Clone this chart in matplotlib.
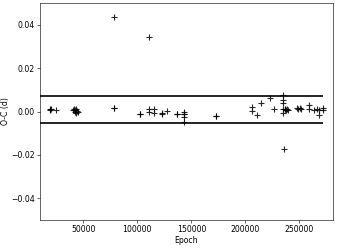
import matplotlib
matplotlib.use("Agg")
import matplotlib.pyplot as plt

# O-C residuals (days) against cycle number
epoch = [
    19400, 19400, 20500, 25000,
    40500, 41500, 42500, 42500, 43500, 44500, 45500, 43000,
    78400, 78400, 78400,
    102800, 102800,
    111100, 111100, 111100, 115700, 115700,
    123000, 123000, 127500,
    136400, 136400,
    142900, 143500, 143500, 142900, 143500,
    173100, 173100,
    206500, 206500, 210800,
    214500, 222500, 226800,
    234900, 234900, 234900, 234900, 234900, 235500,
    236500, 237500, 238500, 239500, 237000,
    247800, 248500, 250800, 251000,
    259300, 259300,
    263900, 266000, 268200, 268200, 271900, 271500,
]
oc = [
    0.0010, 0.0008, 0.0010, 0.0006,
    0.0005, 0.0010, 0.0000, 0.0008, -0.0005, 0.0003, -0.0002, 0.0012,
    0.0436, 0.0018, 0.0016,
    -0.0013, -0.0011,
    0.0342, 0.0010, 0.0000, -0.0005, 0.0010,
    -0.0010, -0.0008, 0.0003,
    -0.0012, -0.0010,
    -0.0010, -0.0026, -0.0049, 0.0000, -0.0012,
    -0.0021, -0.0019,
    0.0023, 0.0001, -0.0017,
    0.0038, 0.0061, 0.0010,
    0.0078, 0.0053, 0.0040, 0.0010, -0.0006, -0.0175,
    0.0010, 0.0005, 0.0010, 0.0008, 0.0012,
    0.0014, 0.0012, 0.0014, 0.0012,
    0.0030, 0.0012,
    0.0009, 0.0010, -0.0014, 0.0005, 0.0017, 0.0008,
]
# upper and lower bounds drawn as horizontal lines
bound_hi = 0.0073
bound_lo = -0.0053
line_start = 10000
line_end = 272000

s = 0.527  # everything scaled down from a default-size figure
plt.rcParams["font.size"] = 5.6
plt.rcParams["axes.linewidth"] = 0.8 * s
for ax_ in ("xtick", "ytick"):
    plt.rcParams[f"{ax_}.major.size"] = 3.5 * s
    plt.rcParams[f"{ax_}.major.width"] = 0.8 * s
    plt.rcParams[f"{ax_}.major.pad"] = 3.5 * s

fig = plt.figure(figsize=(3.37, 2.5), dpi=100)
ax = fig.add_axes([0.1187, 0.12, 0.8693, 0.868])

ax.plot(epoch, oc, "+", color="black", markersize=4.3, mew=0.8, alpha=0.85)
ax.hlines([bound_hi, bound_lo], line_start, line_end, color="black", lw=1.2)

ax.set_xlim(10000, 281000)
ax.set_ylim(-0.05, 0.05)
ax.set_yticks([-0.04, -0.02, 0.0, 0.02, 0.04])
ax.set_xticks([50000, 100000, 150000, 200000, 250000])
ax.set_xlabel("Epoch", labelpad=1.5)
ax.set_ylabel("O-C (d)")
ax.yaxis.set_label_coords(-0.104, 0.5)

fig.savefig("out.png", dpi=100)
